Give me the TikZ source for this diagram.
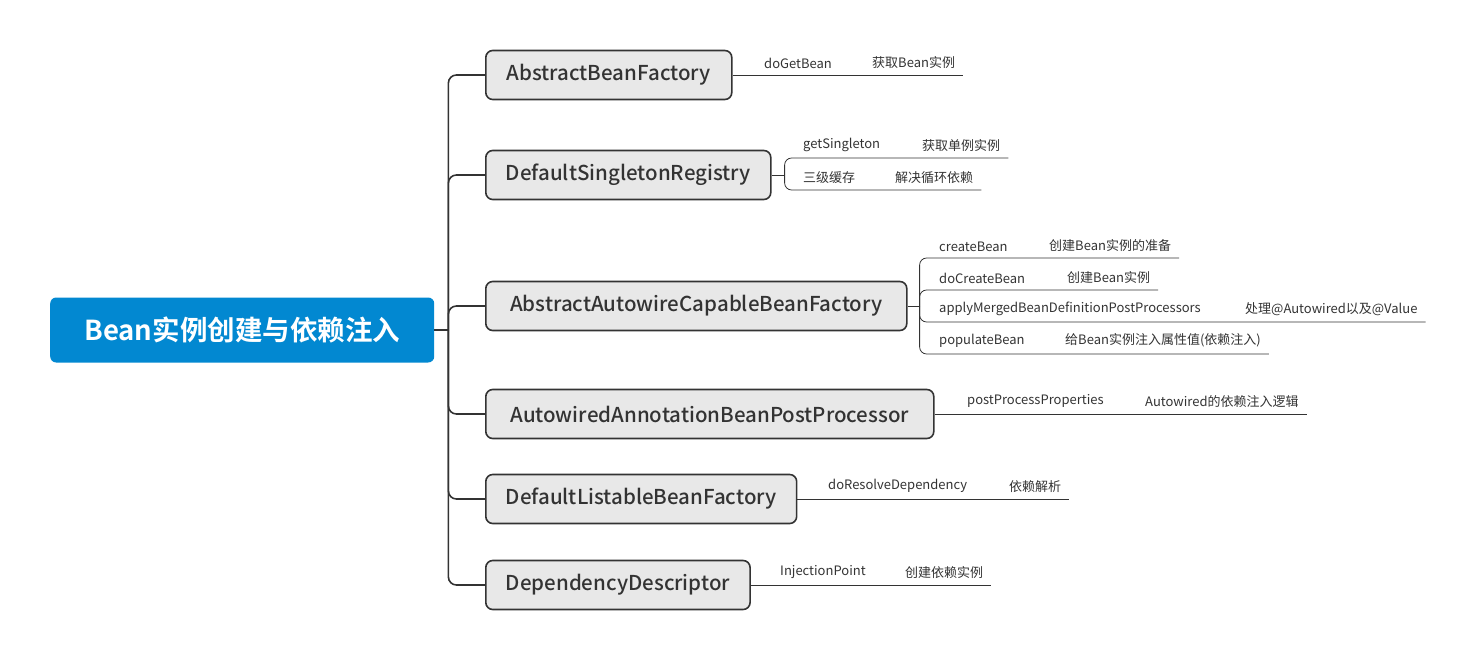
\documentclass[tikz,border=0pt]{standalone}
\usepackage{fontspec}
\setmainfont{Noto Sans CJK SC}[BoldFont={Noto Sans CJK SC Bold}]
\newfontfamily\boxfont{Noto Sans CJK SC Medium}
\usetikzlibrary{positioning}
\definecolor{rootblue}{HTML}{0288D1}
\definecolor{boxgray}{HTML}{E8E8E8}
\definecolor{ink}{HTML}{333333}

\begin{document}
\begin{tikzpicture}[x=1pt, y=-1pt,
    rootnode/.style={rectangle, fill=rootblue, rounded corners=6pt, minimum width=384pt, minimum height=65pt, text=white, font=\fontsize{27.5}{32}\selectfont\bfseries, anchor=west},
    classbox/.style={rectangle, draw=ink, line width=1.6pt, fill=boxgray, rounded corners=7pt, minimum height=49pt, inner xsep=20pt, text=ink, font=\fontsize{20.5}{24}\boxfont, anchor=west},
    trunk/.style={draw=ink, line width=1.6pt, rounded corners=8pt},
    twig/.style={draw=ink, line width=0.8pt, rounded corners=7pt},
    method/.style={inner xsep=0pt, inner ysep=6.5pt, anchor=south west, text=ink, font=\fontsize{13}{15}\selectfont},
    note/.style={method, inner xsep=8pt}]
    \useasboundingbox (0,0) rectangle (1477,660);
    \node [rootnode] (root) at (50,330) {Bean实例创建与依赖注入};
    \node [classbox, minimum width=246pt] (abf) at (485,75) {AbstractBeanFactory};
    \node [classbox, minimum width=285pt] (dsr) at (485,175) {DefaultSingletonRegistry};
    \node [classbox, minimum width=421pt] (aacbf) at (485,306) {AbstractAutowireCapableBeanFactory};
    \node [classbox, minimum width=448pt] (aabpp) at (485,414) {AutowiredAnnotationBeanPostProcessor};
    \node [classbox, minimum width=310pt] (dlbf) at (485,499) {DefaultListableBeanFactory};
    \node [classbox, minimum width=262pt] (dd) at (485,585) {DependencyDescriptor};
    % trunk
    \draw [trunk] (root.east) -- ++(14,0) coordinate (rootfork);
    \foreach \cls in {abf, dsr, aacbf, aabpp, dlbf, dd}
        \draw [trunk] (rootfork) |- (\cls.west);
    % AbstractBeanFactory
    \node [method] (getbean) at (764,75) {doGetBean};
    \node [note] (getbeannote) at (864,75) {获取Bean实例};
    \draw [twig] (abf.east) -- (getbeannote.south east);
    % DefaultSingletonRegistry
    \node [method] (getsingle) at (803,158) {getSingleton};
    \node [note] (getsinglenote) at (914,158) {获取单例实例};
    \node [method] (cache) at (803,190) {三级缓存};
    \node [note] (cachenote) at (887,190) {解决循环依赖};
    \draw [twig] (dsr.east) -- ++(13,0) coordinate (dsrfork);
    \draw [twig] (dsrfork) |- (getsinglenote.south east);
    \draw [twig] (dsrfork) |- (cachenote.south east);
    % AbstractAutowireCapableBeanFactory
    \node [method] (create) at (939,258) {createBean};
    \node [note] (createnote) at (1041,258) {创建Bean实例的准备};
    \node [method] (docreate) at (939,290) {doCreateBean};
    \node [note] (docreatenote) at (1059,290) {创建Bean实例};
    \node [method] (applymerged) at (939,322) {applyMergedBeanDefinitionPostProcessors};
    \node [note] (applymergednote) at (1237,322) {处理@Autowired以及@Value};
    \node [method] (populate) at (939,354) {populateBean};
    \node [note] (populatenote) at (1057,354) {给Bean实例注入属性值(依赖注入)};
    \draw [twig] (aacbf.east) -- ++(12,0) coordinate (aacbffork);
    \foreach \leaf in {createnote, docreatenote, applymergednote, populatenote}
        \draw [twig] (aacbffork) |- (\leaf.south east);
    % AutowiredAnnotationBeanPostProcessor
    \node [method] (postprops) at (967,414) {postProcessProperties};
    \node [note] (postpropsnote) at (1137,414) {Autowired的依赖注入逻辑};
    \draw [twig] (aabpp.east) -- (postpropsnote.south east);
    % DefaultListableBeanFactory
    \node [method] (resolve) at (828,499) {doResolveDependency};
    \node [note] (resolvenote) at (1001,499) {依赖解析};
    \draw [twig] (dlbf.east) -- (resolvenote.south east);
    % DependencyDescriptor
    \node [method] (injection) at (780,585) {InjectionPoint};
    \node [note] (injectionnote) at (897,585) {创建依赖实例};
    \draw [twig] (dd.east) -- (injectionnote.south east);
\end{tikzpicture}
\end{document}
